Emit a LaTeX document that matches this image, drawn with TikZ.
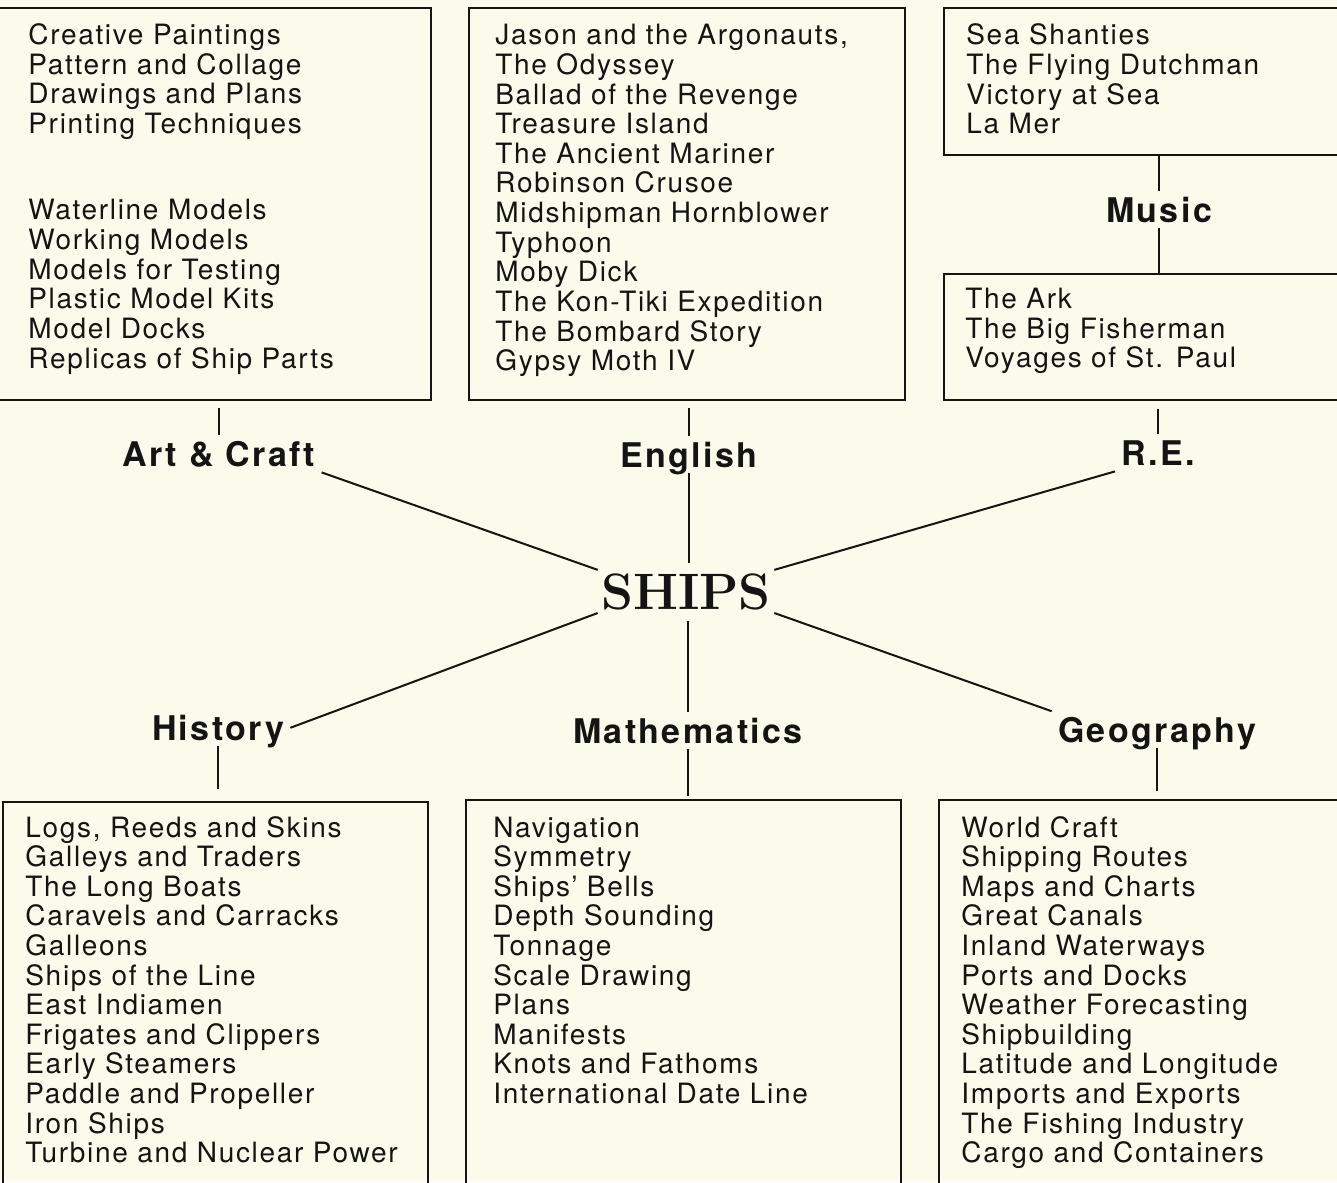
\documentclass[tikz,border=0pt]{standalone}
\usepackage{fontspec}
\usetikzlibrary{fit}
\newfontfamily\itemfont[LetterSpace=6]{TeX Gyre Heros}
\newfontfamily\subjfont[LetterSpace=7]{TeX Gyre Heros}
\definecolor{paper}{RGB}{251,251,236}
\definecolor{ink}{RGB}{20,20,20}

\begin{document}
\begin{tikzpicture}[x=0.5pt, y=-0.5pt,
    frame/.style={draw=ink, line width=1pt, inner sep=0pt},
    link/.style={draw=ink, line width=1pt},
    listitem/.style={anchor=base west, inner sep=0pt, text=ink,
      font=\itemfont\fontsize{14}{15}\selectfont},
    subject/.style={anchor=base, inner sep=3pt, text height=12.2pt, text depth=0pt,
      text=ink, font=\subjfont\bfseries\fontsize{17}{18}\selectfont},
    hub/.style={anchor=base, inner sep=1.5pt, text=ink,
      font=\rmfamily\bfseries\fontsize{25.6}{27}\selectfont}]
            \useasboundingbox (0,0) rectangle (1337,1182);
            \fill[paper] (0,0) rectangle (1337,1182);
            \clip (0,0) rectangle (1337,1182);

            \node[frame, fit={(-20,8) (431,400)}] (artbox) {};
            \node[frame, fit={(469,8) (905,400)}] (engbox) {};
            \node[frame, fit={(944,8) (1360,155)}] (musbox) {};
            \node[frame, fit={(944,274) (1360,400)}] (relbox) {};
            \node[frame, fit={(3,802) (428,1200)}] (histbox) {};
            \node[frame, fit={(466,800) (901,1200)}] (mathbox) {};
            \node[frame, fit={(939,800) (1360,1200)}] (geobox) {};

            \foreach \t [count=\i from 0] in {Creative Paintings, Pattern and Collage,
                Drawings and Plans, Printing Techniques}
              \node[listitem] (art-a\i) at (28,{44.5+29.6*\i}) {\t};
            \foreach \t [count=\i from 0] in {Waterline Models, Working Models,
                Models for Testing, Plastic Model Kits, Model Docks, Replicas of Ship Parts}
              \node[listitem] (art-b\i) at (28,{220+29.6*\i}) {\t};
            \foreach \t [count=\i from 0] in {{Jason and the Argonauts,}, The Odyssey,
                Ballad of the Revenge, Treasure Island, The Ancient Mariner, Robinson Crusoe,
                Midshipman Hornblower, Typhoon, Moby Dick, The Kon-Tiki Expedition,
                The Bombard Story, Gypsy Moth IV}
              \node[listitem] (eng-\i) at (495,{45+29.6*\i}) {\t};
            \foreach \t [count=\i from 0] in {Sea Shanties, The Flying Dutchman,
                Victory at Sea, La Mer}
              \node[listitem] (mus-\i) at (966,{45+29.6*\i}) {\t};
            \foreach \t [count=\i from 0] in {The Ark, The Big Fisherman, Voyages of St. Paul}
              \node[listitem] (rel-\i) at (965,{308.5+29.6*\i}) {\t};
            \foreach \t [count=\i from 0] in {{Logs, Reeds and Skins}, Galleys and Traders,
                The Long Boats, Caravels and Carracks, Galleons, Ships of the Line,
                East Indiamen, Frigates and Clippers, Early Steamers, Paddle and Propeller,
                Iron Ships, Turbine and Nuclear Power}
              \node[listitem] (hist-\i) at (25,{837+29.6*\i}) {\t};
            \foreach \t [count=\i from 0] in {Navigation, Symmetry, Ships’ Bells,
                Depth Sounding, Tonnage, Scale Drawing, Plans, Manifests,
                Knots and Fathoms, International Date Line}
              \node[listitem] (math-\i) at (493,{837+29.6*\i}) {\t};
            \foreach \t [count=\i from 0] in {World Craft, Shipping Routes, Maps and Charts,
                Great Canals, Inland Waterways, Ports and Docks, Weather Forecasting,
                Shipbuilding, Latitude and Longitude, Imports and Exports,
                The Fishing Industry, Cargo and Containers}
              \node[listitem] (geo-\i) at (961,{837+29.6*\i}) {\t};

            \node[subject] (art) at (219,466) {Art \& Craft};
            \node[subject] (eng) at (689,467) {English};
            \node[subject] (mus) at (1159,222) {Music};
            \node[subject] (rel) at (1158,465) {R.E.};
            \node[subject] (hist) at (218,740) {History};
            \node[subject] (math) at (688,743) {Mathematics};
            \node[subject] (geo) at (1157,742) {Geography};
            \node[hub] (ships) at (686,609) {SHIPS};

            \draw[link, shorten <=3.5pt] (artbox.south -| art.north) -- (art.north);
            \draw[link, shorten <=3.5pt] (engbox.south -| eng.north) -- (eng.north);
            \draw[link, shorten >=3.5pt] (eng.south) -- (ships.north -| eng.south);
            \draw[link] (musbox.south -| mus.north) -- (mus.north);
            \draw[link] (mus.south) -- (relbox.north -| mus.south);
            \draw[link, shorten <=4pt] (relbox.south -| rel.north) -- (rel.north);
            \draw[link, shorten <=4pt] (ships.south -| math.north) -- (math.north);
            \draw[link, shorten >=1.5pt] (math.south) -- (mathbox.north -| math.south);
            \draw[link, shorten >=6pt] (hist.south) -- (histbox.north -| hist.south);
            \draw[link, shorten >=4pt] (geo.south) -- (geobox.north -| geo.south);

            \draw[link] (art.south east) -- (ships.north west);
            \draw[link] (rel.south west) -- (ships.north east);
            \draw[link] (hist.east) -- (ships.south west);
            \draw[link] (geo.north west) -- (ships.south east);
        \end{tikzpicture}
\end{document}
